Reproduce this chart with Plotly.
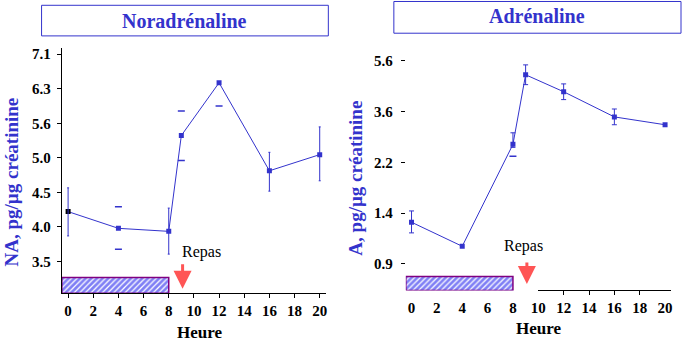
import numpy as np
import plotly.graph_objects as go

# ---------------- data ----------------
heures = [0, 4, 8, 9, 12, 16, 20]

na_moy = [4.15, 3.92, 3.88, 5.38, 6.44, 4.77, 5.04]
na_eb_h = [0, 8, 16, 20]
na_eb_haut = [4.50, 4.20, 5.08, 5.54]
na_eb_bas = [3.82, 3.59, 4.45, 4.61]
na_cap_h = [4, 4, 9, 9, 12]
na_cap_v = [4.22, 3.65, 5.85, 4.94, 5.95]

a_moy = [1.31, 1.055, 2.64, 4.94, 4.24, 3.38, 3.15]
a_eb_h = [0, 8, 9, 12, 16]
a_eb_haut = [1.45, 2.93, 5.40, 4.55, 3.63]
a_eb_bas = [1.19, 2.57, 4.52, 3.95, 3.15]
a_cap_h = [8]
a_cap_v = [2.37]

na_tick_labels = ["3.5", "4.0", "4.5", "5.0", "5.6", "6.3", "7.1"]
a_tick_labels = ["0.9", "1.4", "2.2", "3.6", "5.6"]
x_ticks = list(range(0, 21, 2))
repas = 9.1
sommeil_fin = 8

# ---------------- style ----------------
BLUE = "rgb(51,51,204)"
HATCH = "rgb(0,0,235)"
PURPLE = "rgb(128,0,128)"
RED = "rgb(255,85,85)"
SERIF = "Liberation Serif"
W, H = 684, 344


def px(x):
    return x / W


def py(y):
    return 1 - y / H


na_tickvals = list(np.geomspace(float(na_tick_labels[0]), float(na_tick_labels[-1]), len(na_tick_labels)))
a_tickvals = list(np.geomspace(float(a_tick_labels[0]), float(a_tick_labels[-1]), len(a_tick_labels)))

na_yr = [0.4973, 0.8610]
a_yr = [-0.1495, 0.8067]
na_xr = [-0.5, 20.48]
a_xr = [-0.45, 20.47]

fig = go.Figure()


def add_panel(xa, ya, moy, eb_h, eb_hi, eb_lo, cap_h, cap_v, colors, capw):
    fig.add_trace(go.Scatter(
        x=heures, y=moy, mode="lines+markers", xaxis=xa, yaxis=ya,
        line=dict(color=BLUE, width=1),
        marker=dict(symbol="square", size=5, color=colors),
        showlegend=False, hoverinfo="skip"))
    m = [moy[heures.index(h)] for h in eb_h]
    fig.add_trace(go.Scatter(
        x=eb_h, y=m, mode="markers", xaxis=xa, yaxis=ya,
        marker=dict(size=1, color="rgba(0,0,0,0)"),
        error_y=dict(type="data", symmetric=False,
                     array=[h - v for h, v in zip(eb_hi, m)],
                     arrayminus=[v - l for l, v in zip(eb_lo, m)],
                     color=BLUE, thickness=1, width=capw),
        showlegend=False, hoverinfo="skip"))
    fig.add_trace(go.Scatter(
        x=cap_h, y=cap_v, mode="markers", xaxis=xa, yaxis=ya,
        marker=dict(symbol="line-ew", size=5, line=dict(width=1.5, color=BLUE)),
        showlegend=False, hoverinfo="skip"))


# hatched "night" boxes
def hatch(xa, ya, xr, yr, top_px, slope_per_px, ref_px, ref_log):
    y_top = 10 ** (ref_log - (top_px - ref_px) * slope_per_px)
    y_bot = 10 ** yr[0]
    x0, x1 = xr[0], sommeil_fin
    fig.add_trace(go.Scatter(
        x=[x0, x1, x1, x0, x0], y=[y_bot, y_bot, y_top, y_top, y_bot],
        xaxis=xa, yaxis=ya, mode="lines", fill="toself",
        fillcolor="white",
        fillpattern=dict(shape="/", fgcolor=HATCH, bgcolor="white", size=4, solidity=0.7),
        line=dict(color=PURPLE, width=1.5), showlegend=False, hoverinfo="skip"))


hatch("x", "y", na_xr, na_yr, 277.3, 0.3072 / 208, 261.3, np.log10(3.5))
hatch("x2", "y2", a_xr, a_yr, 276.3, 0.794 / 203.7, 263.7, np.log10(0.9))

add_panel("x", "y", na_moy, na_eb_h, na_eb_haut, na_eb_bas, na_cap_h, na_cap_v,
          ["black"] + [BLUE] * (len(heures) - 1), 1)
add_panel("x2", "y2", a_moy, a_eb_h, a_eb_haut, a_eb_bas, a_cap_h, a_cap_v,
          BLUE, 2.5)

fig.add_trace(go.Scatter(x=[], y=[], xaxis="x3", yaxis="y2", showlegend=False))

tickfont = dict(family=SERIF, size=15, color="black", weight="bold")

fig.update_layout(
    width=W, height=H, margin=dict(l=0, r=0, t=0, b=0),
    font=dict(family=SERIF, color="black"),
    paper_bgcolor="white", plot_bgcolor="rgba(0,0,0,0)", showlegend=False,
    xaxis=dict(domain=[px(62), px(326.7)], range=na_xr, anchor="y",
               tickvals=x_ticks, ticks="outside", ticklen=4, tickcolor="black",
               showline=True, linecolor="black", linewidth=1,
               showgrid=False, zeroline=False, tickfont=dict(tickfont)),
    yaxis=dict(domain=[py(293), py(46.7)], type="log", range=na_yr, anchor="x",
               tickvals=na_tickvals, ticktext=na_tick_labels,
               ticks="outside", ticklen=4, tickcolor="black",
               showline=True, linecolor="black", linewidth=1,
               showgrid=False, zeroline=False, tickfont=dict(tickfont),
               ticklabelstandoff=3),
    xaxis2=dict(domain=[px(407), px(673)], range=a_xr, anchor="y2",
                tickvals=x_ticks, ticks="outside", ticklen=4,
                tickcolor="rgba(0,0,0,0)", showline=False,
                showgrid=False, zeroline=False, tickfont=dict(tickfont)),
    yaxis2=dict(domain=[py(290.3), py(45)], type="log", range=a_yr, anchor="x2",
                tickvals=a_tickvals, ticktext=a_tick_labels,
                ticks="outside", ticklen=4, tickcolor="black",
                showline=False, showgrid=False, zeroline=False,
                tickfont=dict(tickfont), ticklabelstandoff=5),
    xaxis3=dict(domain=[px(540), px(673)], range=[10.01, a_xr[1]], anchor="y2",
                tickvals=[12, 14, 16, 18], ticks="outside", ticklen=4,
                tickcolor="black", showticklabels=False,
                showline=True, linecolor="black", linewidth=1,
                showgrid=False, zeroline=False),
)

# title boxes
fig.add_shape(type="rect", xref="paper", yref="paper",
              x0=px(41.7), x1=px(329.3), y0=py(35), y1=py(4.3),
              line=dict(color=BLUE, width=1))
fig.add_shape(type="rect", xref="paper", yref="paper",
              x0=px(395), x1=px(683), y0=py(32.3), y1=py(0.5),
              line=dict(color=BLUE, width=1))


def A(**kw):
    d = dict(xanchor="center", yanchor="middle", showarrow=False)
    d.update(kw)
    return d


ann = []
ann.append(A(text="<b>Noradrénaline</b>", x=px(185.5), y=py(19.7), xref="paper", yref="paper",
             font=dict(family=SERIF, size=20, color=BLUE)))
ann.append(A(text="<b>Adrénaline</b>", x=px(539), y=py(15.5), xref="paper", yref="paper",
             font=dict(family=SERIF, size=20, color=BLUE)))
ann.append(A(text="<b>NA, pg/µg créatinine</b>", x=px(12), y=py(181), xref="paper", yref="paper",
             textangle=-90, font=dict(family=SERIF, size=19, color=BLUE)))
ann.append(A(text="<b>A, pg/µg créatinine</b>", x=px(356.7), y=py(177.5), xref="paper", yref="paper",
             textangle=-90, font=dict(family=SERIF, size=19, color=BLUE)))
ann.append(A(text="<b>Heure</b>", x=px(200), y=py(332.7), xref="paper", yref="paper",
             font=dict(family=SERIF, size=17, color="black")))
ann.append(A(text="<b>Heure</b>", x=px(540), y=py(328.7), xref="paper", yref="paper",
             font=dict(family=SERIF, size=17, color="black")))
# Repas labels and arrows
ann.append(A(text="Repas", x=repas, xref="x", y=py(252), yref="paper", xshift=18.6,
             font=dict(family=SERIF, size=16, color="black")))
ann.append(A(text="Repas", x=repas, xref="x2", y=py(245.3), yref="paper", xshift=-3.3,
             font=dict(family=SERIF, size=16, color="black")))
ann.append(dict(text="", x=repas, xref="x", y=py(288.7), yref="paper",
                showarrow=True, ax=0, ay=-26, arrowhead=2, arrowsize=1.2,
                arrowwidth=3, arrowcolor=RED))
ann.append(dict(text="", x=repas, xref="x2", y=py(283.7), yref="paper",
                showarrow=True, ax=0, ay=-23, arrowhead=2, arrowsize=1.2,
                arrowwidth=3, arrowcolor=RED))
fig.update_layout(annotations=ann)

fig.write_html("out.html")
